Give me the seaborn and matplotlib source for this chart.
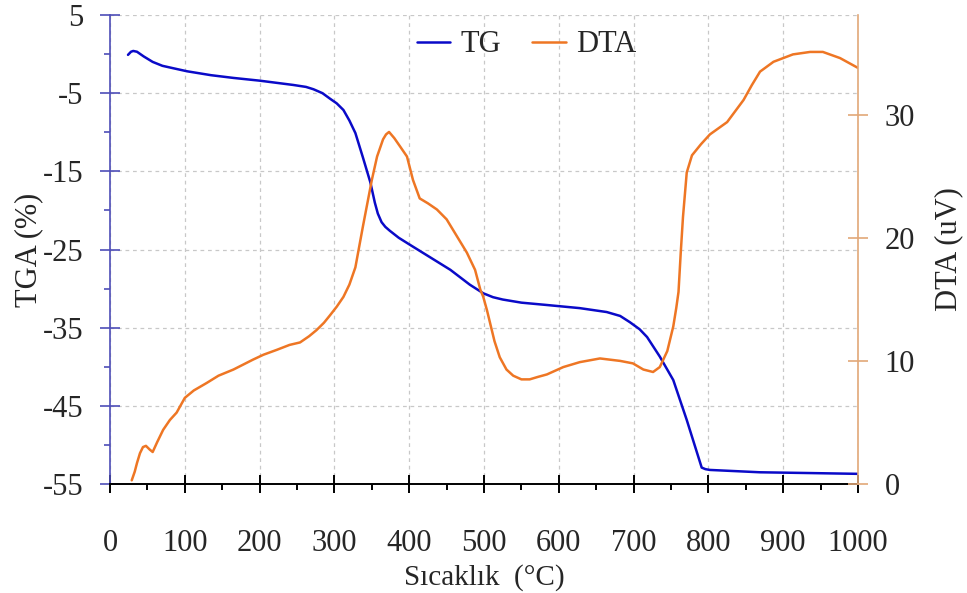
import numpy as np
import pandas as pd
import seaborn as sns
import matplotlib.pyplot as plt
from matplotlib.ticker import MultipleLocator

# TG curve (temperature in °C, mass change in %)
tg_temp = [24, 28, 31, 36, 45, 57, 70, 84, 103, 135, 165, 200, 245, 262, 272, 284, 294,
           303, 312, 320, 328, 338, 348, 354, 358, 363, 368, 374, 386, 401, 428, 455,
           481, 499, 512, 525, 550, 584, 628, 664, 682, 695, 708, 718, 735, 753, 771,
           791, 796, 802, 869, 936, 1000]
tg_val = [-0.1, 0.3, 0.4, 0.3, -0.3, -1.0, -1.5, -1.8, -2.2, -2.7, -3.05, -3.4, -3.95,
          -4.2, -4.5, -5.0, -5.7, -6.3, -7.15, -8.5, -10.1, -13.2, -16.4, -19.0, -20.4,
          -21.5, -22.1, -22.6, -23.5, -24.4, -26.0, -27.6, -29.5, -30.6, -31.1, -31.4,
          -31.8, -32.1, -32.5, -33.0, -33.5, -34.3, -35.2, -36.2, -38.7, -41.7, -46.8,
          -52.9, -53.1, -53.2, -53.5, -53.6, -53.7]

# DTA curve (temperature in °C, signal in uV)
dta_temp = [29, 33, 36, 40, 44, 48, 53, 57, 63, 71, 80, 89, 100, 112, 129, 145, 165, 191,
            205, 223, 240, 254, 266, 276, 286, 294, 303, 312, 320, 328, 338, 344, 350,
            357, 365, 369, 373, 380, 388, 397, 405, 414, 425, 437, 450, 464, 477, 488,
            495, 499, 504, 508, 514, 521, 530, 539, 550, 561, 572, 584, 606, 628, 655,
            682, 699, 713, 726, 735, 745, 753, 757, 760, 763, 766, 771, 778, 790, 802,
            825, 847, 858, 869, 887, 913, 936, 953, 976, 1000]
dta_val = [0.3, 1.0, 1.7, 2.5, 3.0, 3.1, 2.8, 2.6, 3.4, 4.4, 5.2, 5.8, 7.0, 7.6, 8.2, 8.8,
           9.3, 10.1, 10.5, 10.9, 11.3, 11.5, 12.0, 12.5, 13.1, 13.7, 14.4, 15.2, 16.2,
           17.6, 20.9, 22.8, 24.7, 26.6, 28.0, 28.4, 28.6, 28.1, 27.4, 26.6, 24.7, 23.2,
           22.8, 22.3, 21.5, 20.1, 18.8, 17.4, 15.8, 15.2, 14.1, 13.1, 11.6, 10.3, 9.3,
           8.8, 8.5, 8.5, 8.7, 8.9, 9.5, 9.9, 10.2, 10.0, 9.8, 9.3, 9.1, 9.5, 10.8, 12.8,
           14.3, 15.6, 18.8, 21.7, 25.3, 26.7, 27.6, 28.4, 29.4, 31.2, 32.4, 33.5, 34.3,
           34.9, 35.1, 35.1, 34.6, 33.8]

tg = pd.DataFrame({"temp": tg_temp, "val": tg_val})
dta = pd.DataFrame({"temp": dta_temp, "val": dta_val})

sns.set_theme(style="ticks")
plt.rcParams["font.family"] = ["Liberation Serif", "DejaVu Serif"]
plt.rcParams["axes.unicode_minus"] = False
plt.rcParams["xtick.bottom"] = True
plt.rcParams["ytick.left"] = True

blue = "#0a0ac8"
orange = "#ee7624"
left_spine = "#4e4eb8"
right_spine = "#e2a878"

fig = plt.figure(figsize=(9.67, 5.93), dpi=100)
ax = fig.add_axes([0.1138, 0.1838, 0.7735, 0.7909])
ax2 = ax.twinx()

sns.lineplot(data=tg, x="temp", y="val", ax=ax, color=blue, lw=1.8, sort=False, label="TG")
sns.lineplot(data=dta, x="temp", y="val", ax=ax2, color=orange, lw=1.8, sort=False, label="DTA")

ax.set_xlim(0, 1000)
ax.set_ylim(-55, 5)
ax2.set_ylim(0, 38.1)

ax.xaxis.set_major_locator(MultipleLocator(100))
ax.xaxis.set_minor_locator(MultipleLocator(50))
ax.set_yticks([-55, -45, -35, -25, -15, -5, 5])
ax.yaxis.set_minor_locator(MultipleLocator(5))
ax2.set_yticks([0, 10, 20, 30])

# dashed grid
ax.grid(True, which="major", color="#c8c8c8", ls=(0, (3, 3)), lw=0.9)
ax2.grid(False)

for s in ["top", "right"]:
    ax.spines[s].set_visible(False)
ax.spines["left"].set_color(left_spine)
ax.spines["bottom"].set_color("black")
ax.spines["bottom"].set_linewidth(1.4)
ax.spines["left"].set_linewidth(1.2)
for s in ["top", "left", "bottom"]:
    ax2.spines[s].set_visible(False)
ax2.spines["right"].set_color(right_spine)
ax2.spines["right"].set_linewidth(1.2)

ax.tick_params(axis="x", which="both", bottom=True, top=False)
ax.tick_params(axis="y", which="both", left=True, right=False)
ax2.tick_params(axis="y", which="both", right=True, left=False)
ax.tick_params(axis="x", which="major", direction="inout", length=13, width=1.4,
               color="black", labelsize=22, pad=26)
ax.tick_params(axis="x", which="minor", direction="out", length=4, width=1.4, color="black")
ax.tick_params(axis="y", which="major", direction="inout", length=14, width=1.2,
               color=left_spine, labelsize=22, pad=12)
ax.tick_params(axis="y", which="minor", direction="out", length=4, width=1.2, color=left_spine)
ax2.tick_params(axis="y", which="major", direction="inout", length=14, width=1.2,
                color=right_spine, labelsize=22, pad=12)
ax2.tick_params(axis="y", which="minor", right=False)

ax.set_xlabel("Sıcaklık  (°C)", fontsize=21, labelpad=4)
ax.set_ylabel("TGA (%)", fontsize=22, labelpad=0)
ax2.set_ylabel("DTA (uV)", fontsize=22, labelpad=14)

h1, l1 = ax.get_legend_handles_labels()
h2, l2 = ax2.get_legend_handles_labels()
ax.get_legend().remove()
ax2.get_legend().remove()
ax2.legend(h1 + h2, l1 + l2, loc="upper center", bbox_to_anchor=(0.557, 1.0), ncol=2,
           frameon=False, fontsize=22, handlelength=1.1, handletextpad=0.35,
           columnspacing=1.0, borderaxespad=0.1)

fig.savefig("out.png", dpi=100)
